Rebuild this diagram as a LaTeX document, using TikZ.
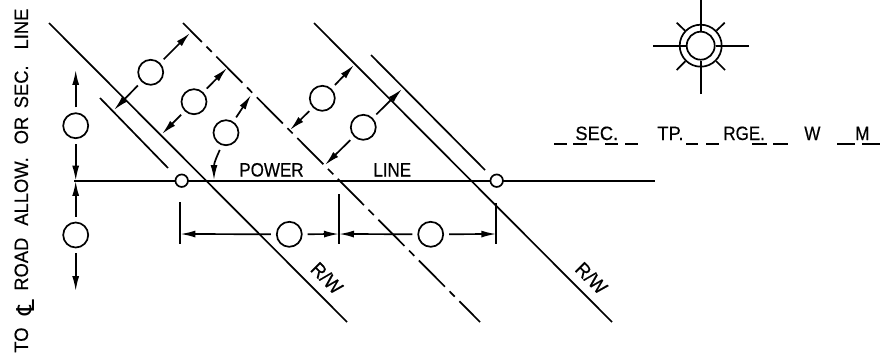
\documentclass[tikz,border=0pt]{standalone}
\usepackage{fontspec}
\setmainfont[FakeStretch=0.88,FakeBold=0.4]{Liberation Sans}
\newfontfamily\widefont[FakeStretch=0.95,FakeBold=0.4]{Liberation Sans}
\newfontfamily\clfont{DejaVu Sans}
\usetikzlibrary{arrows.meta}
\tikzset{
  wire/.style={line width=0.034cm},
  dim/.style={wire, -{Latex[length=0.3cm,width=0.14cm]}, shorten <=0.1cm},
  tag/.style={circle, draw, line width=0.034cm, fill=white, minimum size=0.5cm, inner sep=0pt},
  pole/.style={circle, draw, line width=0.034cm, fill=white, minimum size=0.25cm, inner sep=0pt},
  lbl/.style={inner sep=0pt, anchor=base west, font=\fontsize{11}{13}\selectfont},
}
\begin{document}
\begin{tikzpicture}[x=0.02cm,y=-0.02cm]
        \useasboundingbox (0,0) rectangle (882,355);
        % Limites de R/W e linha de centro
        \draw[wire] (49,23) -- (347,322);
        \draw[wire] (100,98) -- (168,168);
        \draw[wire] (314,23) -- (612,322);
        \draw[wire] (371,55) -- (485,170);
        \draw[wire, dash pattern=on 0.74cm off 0.13cm on 0.15cm off 0.13cm, dash phase=0.205cm] (183,23) -- (480,322);
        % Linha de energia
        \coordinate (pwa) at (74,180.7);
        \coordinate (pwb) at (655,180.7);
        \draw[wire] (pwa) -- (pwb);
        \node[pole] (pl) at (181.7,180.7) {};
        \node[pole] (pr) at (496.7,180.7) {};
        % Circulos
        \foreach \n/\x/\y in {c1/150.7/72.3, c2/194/101.7, c3/226/132.7, c4/75.7/125.7, c5/75.7/235,
                              c6/322.3/98.3, c7/363.3/127.3, c8/289.3/234.3, c9/430.7/234.3}
            \node[tag] (\n) at (\x,\y) {};
        % Pontas das setas
        \foreach \n/\x/\y in {t1/190/33, t2/114/110, t3/227/68, t4/162/134, t5/251/95, t6/214/180,
                              t7/75.7/70, t8/75.7/180.7, t9/75.7/181, t10/75.7/291,
                              t11/354/65, t12/290/130, t13/402/89, t14/325/165,
                              t15/180.3/234, t16/339/234, t17/339/234, t18/496.3/234}
            \coordinate (\n) at (\x,\y);
        \draw[dim] (c1) -- (t1);
        \draw[dim] (c1) -- (t2);
        \draw[dim] (c2) -- (t3);
        \draw[dim] (c2) -- (t4);
        \draw[dim] (c3) -- (t5);
        \draw[dim] (c3) .. controls (219,152) and (214,162) .. (t6);
        \draw[dim] (c4) -- (t7);
        \draw[dim] (c4) -- (t8);
        \draw[dim] (c5) -- (t9);
        \draw[dim] (c5) -- (t10);
        \draw[dim] (c6) -- (t11);
        \draw[dim] (c6) -- (t12);
        \draw[dim] (c7) -- (t13);
        \draw[dim] (c7) -- (t14);
        \draw[dim] (c8) -- (t15);
        \draw[dim] (c8) -- (t16);
        \draw[dim] (c9) -- (t17);
        \draw[dim] (c9) -- (t18);
        % Marcas de cota
        \draw[wire] (180.3,202) -- (180.3,244);
        \draw[wire] (339,194) -- (339,244);
        \draw[wire] (496.3,203) -- (496.3,244);
        % Simbolo do canto
        \node[circle, draw, line width=0.034cm, minimum size=0.84cm, inner sep=0pt] (lampout) at (700.7,45.7) {};
        \node[circle, draw, line width=0.034cm, minimum size=0.56cm, inner sep=0pt] (lampin) at (700.7,45.7) {};
        \draw[wire] (653,45.7) -- (lampin);
        \draw[wire] (749,45.7) -- (lampin);
        \draw[wire] (700.7,0) -- (lampin);
        \draw[wire] (700.7,94) -- (lampin);
        \draw[wire] (676.7,22.7) -- (lampout);
        \draw[wire] (724.7,22.7) -- (lampout);
        \draw[wire] (676.7,70) -- (lampout);
        \draw[wire] (725,70) -- (lampout);
        % Textos
        \node[lbl] (power) at (239,176.5) {POWER};
        \node[lbl] (line) at (373,176.5) {LINE};
        \node[lbl, rotate=90] (side) at (28,353) {\widefont TO\hspace{0.24cm}\raisebox{-0.13cm}{\clfont\fontsize{14}{14}\selectfont ℄}\hspace{0.18cm}ROAD\hspace{0.24cm}ALLOW.\hspace{0.26cm}OR\hspace{0.17cm}SEC.\hspace{0.32cm}LINE};
        \node[lbl, anchor=center, rotate=-45] (rwa) at (327,278) {\widefont R/W};
        \node[lbl, anchor=center, rotate=-45] (rwb) at (591.5,278) {\widefont R/W};
        \node[lbl] (sec) at (575,140) {\widefont SEC.};
        \node[lbl] (tp) at (657,140) {\widefont TP.};
        \node[lbl] (rge) at (723,140) {RGE.};
        \node[lbl] (wst) at (804,140) {W};
        \node[lbl] (mer) at (855,140) {M};
        % Tracos de preenchimento
        \foreach \a/\b in {554/567, 573/587, 605/618, 625/638, 686/698, 706/719, 752/767, 773/788, 837/855, 862/880}
            \draw[wire] (\a,144) -- (\b,144);
    \end{tikzpicture}
\end{document}
